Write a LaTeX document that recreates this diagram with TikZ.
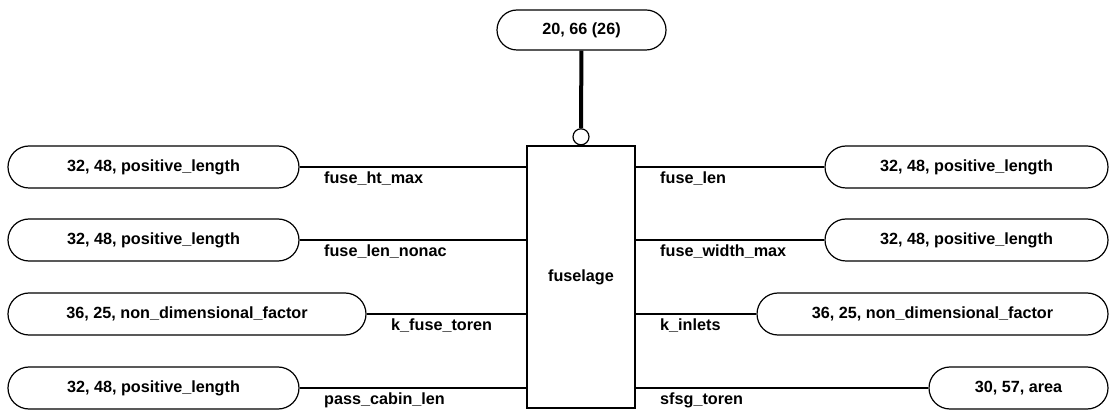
\documentclass[tikz,border=0pt]{standalone}
\usepackage{fontspec}
\setmainfont{Liberation Sans}
\usetikzlibrary{positioning,shapes.misc}

\begin{document}
\begin{tikzpicture}[
  x=1pt, y=-1pt,
  every node/.style={font=\fontsize{16.2}{18}\selectfont\bfseries},
  attr/.style={draw, rounded rectangle, minimum height=42pt, line width=1.2pt, inner sep=0pt},
  ent/.style={draw, rectangle, minimum width=108pt, minimum height=262pt, line width=1.2pt},
  lbl/.style={inner sep=0pt, anchor=north west, xshift=24pt, yshift=-4pt},
  lnk/.style={line width=1.2pt},
]
  \useasboundingbox (0,0) rectangle (1111,411);

  \node[ent] (fus) at (581,277) {fuselage};
  \node[draw, circle, minimum size=16pt, inner sep=0pt, line width=1.2pt, above=0pt of fus] (cir) {};
  \node[attr, minimum width=169pt, minimum height=40pt] (top) at (581.5,30) {20, 66 (26)};

  \node[attr, minimum width=291pt] (lp1) at (153.5,167) {32, 48, positive\_length};
  \node[attr, minimum width=291pt] (lp2) at (153.5,240) {32, 48, positive\_length};
  \node[attr, minimum width=358pt] (lp3) at (187,314) {36, 25, non\_dimensional\_factor};
  \node[attr, minimum width=291pt] (lp4) at (153.5,388) {32, 48, positive\_length};

  \node[attr, minimum width=283pt] (rp1) at (966.5,167) {32, 48, positive\_length};
  \node[attr, minimum width=283pt] (rp2) at (966.5,240) {32, 48, positive\_length};
  \node[attr, minimum width=351pt] (rp3) at (932.5,314) {36, 25, non\_dimensional\_factor};
  \node[attr, minimum width=179pt] (rp4) at (1018.5,388) {30, 57, area};

  \draw[line width=4pt] (top) -- (cir);

  \draw[lnk] (lp1.east) -- (lp1.east -| fus.west) node[lbl, pos=0] {fuse\_ht\_max};
  \draw[lnk] (lp2.east) -- (lp2.east -| fus.west) node[lbl, pos=0] {fuse\_len\_nonac};
  \draw[lnk] (lp3.east) -- (lp3.east -| fus.west) node[lbl, pos=0] {k\_fuse\_toren};
  \draw[lnk] (lp4.east) -- (lp4.east -| fus.west) node[lbl, pos=0] {pass\_cabin\_len};

  \draw[lnk] (rp1.west -| fus.east) -- (rp1.west) node[lbl, pos=0] {fuse\_len};
  \draw[lnk] (rp2.west -| fus.east) -- (rp2.west) node[lbl, pos=0] {fuse\_width\_max};
  \draw[lnk] (rp3.west -| fus.east) -- (rp3.west) node[lbl, pos=0] {k\_inlets};
  \draw[lnk] (rp4.west -| fus.east) -- (rp4.west) node[lbl, pos=0] {sfsg\_toren};
\end{tikzpicture}
\end{document}
